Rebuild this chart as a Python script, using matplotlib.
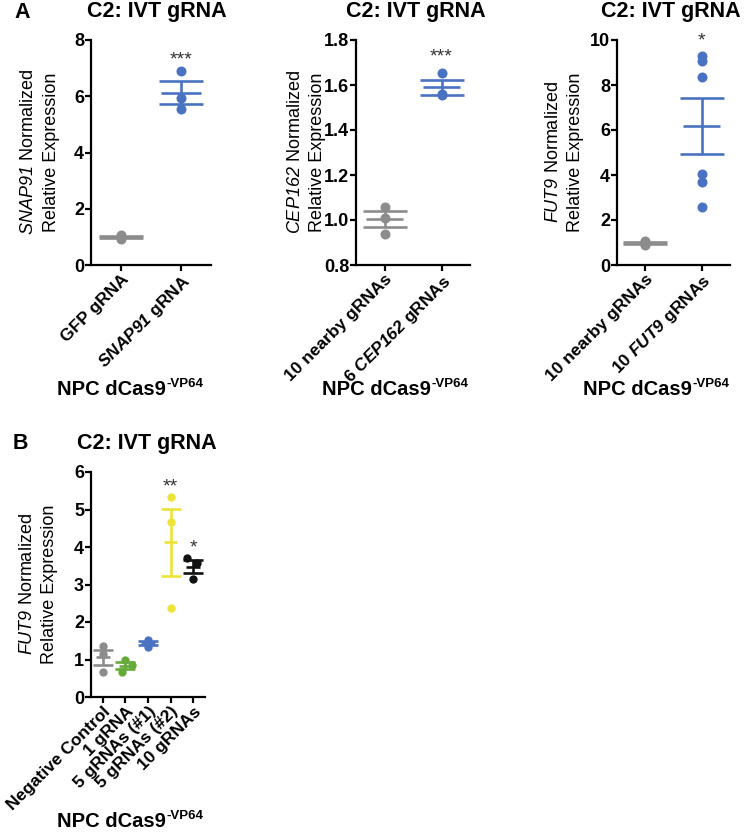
import numpy as np
import matplotlib
matplotlib.use("Agg")
import matplotlib.pyplot as plt

plt.rcParams['font.family'] = ['Liberation Sans', 'DejaVu Sans']
plt.rcParams['mathtext.fontset'] = 'custom'
plt.rcParams['mathtext.rm'] = 'Liberation Sans:italic'
plt.rcParams['mathtext.it'] = 'Liberation Sans:italic'
plt.rcParams['mathtext.bf'] = 'Liberation Sans:bold:italic'
plt.rcParams['mathtext.sf'] = 'Liberation Sans:bold'

# ---------------- data ----------------
title = "C2: IVT gRNA"
xlabel_main = "NPC dCas9"
xlabel_sup = "-VP64"

# Panel A1
a1_labels = ["GFP gRNA", r"$\mathbf{SNAP91}$ gRNA"]
a1_gfp = [1.08, 1.00, 0.93]
a1_snap91 = [6.90, 5.93, 5.54]
a1_sig = ["", "***"]
a1_gene = "SNAP91"
a1_yticks = [0, 2, 4, 6, 8]

# Panel A2
a2_labels = ["10 nearby gRNAs", r"6 $\mathbf{CEP162}$ gRNAs"]
a2_nearby = [1.06, 1.01, 0.94]
a2_cep162 = [1.655, 1.560, 1.555]
a2_sig = ["", "***"]
a2_gene = "CEP162"
a2_yticks = [0.8, 1.0, 1.2, 1.4, 1.6, 1.8]

# Panel A3
a3_labels = ["10 nearby gRNAs", r"10 $\mathbf{FUT9}$ gRNAs"]
a3_nearby = [1.06, 1.02, 1.00, 0.97, 0.93, 0.88]
a3_fut9 = [9.29, 9.07, 8.34, 4.04, 3.71, 2.56]
a3_sig = ["", "*"]
a3_gene = "FUT9"
a3_yticks = [0, 2, 4, 6, 8, 10]

# Panel B
b_labels = ["Negative Control", "1 gRNA", "5 gRNAs (#1)", "5 gRNAs (#2)", "10 gRNAs"]
b_neg = [1.35, 1.15, 0.67]
b_one = [1.00, 0.85, 0.66]
b_five1 = [1.52, 1.44, 1.33]
b_five2 = [5.33, 4.67, 2.38]
b_ten = [3.72, 3.58, 3.14]
b_sig = ["", "", "", "**", "*"]
b_gene = "FUT9"
b_yticks = [0, 1, 2, 3, 4, 5, 6]

# ---------------- style ----------------
GRAY = "#8c8c8c"
BLUE = "#4a72c2"
GREEN = "#66ab3a"
YELLOW = "#ece43a"
BLACK = "#111111"
STAR = "#333333"

W, H = 744, 832
fig = plt.figure(figsize=(W / 100, H / 100), dpi=100)
renderer = fig.canvas.get_renderer()


def fx(px):
    return px / W


def fy(py):
    return 1 - py / H


def make_axes(left, right, top, bottom):
    return fig.add_axes([fx(left), fy(bottom), fx(right - left), (bottom - top) / H])


def style(ax, yticks, fmt, xlim):
    for s in ["top", "right"]:
        ax.spines[s].set_visible(False)
    for s in ["left", "bottom"]:
        ax.spines[s].set_linewidth(1.6)
        ax.spines[s].set_color("black")
    ax.set_ylim(yticks[0], yticks[-1])
    ax.set_yticks(yticks)
    ax.set_yticklabels([fmt.format(v) for v in yticks], fontsize=13, fontweight="bold")
    ax.tick_params(axis="both", width=1.6, length=4, direction="out", pad=1)
    ax.set_xlim(*xlim)


def draw_groups(ax, groups, colors, offsets, msize, mean_hw, capsize, sigs, star_off):
    for i, (vals, c, offs, sig) in enumerate(zip(groups, colors, offsets, sigs)):
        vals = np.asarray(vals, dtype=float)
        xs = i + np.asarray(offs)
        ax.scatter(xs, vals, s=msize, color=c, zorder=3, linewidths=0)
        m = vals.mean()
        sem = vals.std(ddof=1) / np.sqrt(len(vals))
        ax.hlines(m, i - mean_hw, i + mean_hw, color=c, lw=1.9, zorder=4)
        ax.errorbar(i, m, yerr=sem, color=c, lw=1.9, capsize=capsize, capthick=1.9,
                    zorder=4, fmt="none")
        if sig:
            ax.annotate(sig, (i, vals.max()), xytext=(0, star_off), textcoords="offset points",
                        ha="center", va="center", fontsize=14, color=STAR,
                        annotation_clip=False)


def xlabels(ax, labels, fs=12.5):
    ax.set_xticks(range(len(labels)))
    ax.set_xticklabels(labels, rotation=45, ha="right", va="top", rotation_mode="anchor",
                       fontsize=fs, fontweight="bold")


def ylab(gene, x1, x2, ycen):
    fig.text(fx(x1), fy(ycen), r"$\mathit{" + gene + "}$ Normalized", rotation=90,
             ha="center", va="center", fontsize=13)
    fig.text(fx(x2), fy(ycen), "Relative Expression", rotation=90,
             ha="center", va="center", fontsize=13)


def panel_xlabel(xc, yc):
    # main text + superscript, centred as a block at (xc, yc)
    t = fig.text(0, 0, xlabel_main, ha="left", va="baseline", fontsize=14.5, fontweight="bold")
    s = fig.text(0, 0, xlabel_sup, ha="left", va="baseline", fontsize=9.5, fontweight="bold")
    wt = t.get_window_extent(renderer).width
    ws = s.get_window_extent(renderer).width
    total = wt + ws + 1
    x0 = xc - total / 2
    base = yc + 5
    t.set_position((fx(x0), fy(base)))
    s.set_position((fx(x0 + wt + 1), fy(base - 8)))


def ptitle(xc, yc):
    fig.text(fx(xc), fy(yc), title, ha="center", va="center", fontsize=15.5, fontweight="bold")


# ---- A1 ----
ax1 = make_axes(91, 211, 40, 265)
style(ax1, a1_yticks, "{:g}", (-0.5, 1.5))
draw_groups(ax1, [a1_gfp, a1_snap91], [GRAY, BLUE], [[0, 0, 0], [0, 0, 0]],
            52, 0.33, 16, a1_sig, 8)
xlabels(ax1, a1_labels)
ylab(a1_gene, 29, 52, 152)
ptitle(157, 12)
fig.text(fx(22), fy(12), "A", ha="center", va="center", fontsize=15.5, fontweight="bold")
panel_xlabel(130, 390)

# ---- A2 ----
ax2 = make_axes(356, 470, 40, 265)
style(ax2, a2_yticks, "{:.1f}", (-0.5, 1.5))
draw_groups(ax2, [a2_nearby, a2_cep162], [GRAY, BLUE], [[0, 0, 0], [0, 0, 0]],
            52, 0.33, 16, a2_sig, 11)
xlabels(ax2, a2_labels)
ylab(a2_gene, 295, 317, 152)
ptitle(416, 12)
panel_xlabel(395, 390)

# ---- A3 ----
ax3 = make_axes(617, 730, 40, 265)
style(ax3, a3_yticks, "{:g}", (-0.5, 1.5))
draw_groups(ax3, [a3_nearby, a3_fut9], [GRAY, BLUE], [[0] * 6, [0] * 6],
            52, 0.33, 16, a3_sig, 11)
xlabels(ax3, a3_labels)
ylab(a3_gene, 553, 575, 152)
ptitle(671, 12)
panel_xlabel(656, 390)

# ---- B ----
axb = make_axes(91, 205, 472, 697)
style(axb, b_yticks, "{:g}", (-0.53, 4.53))
draw_groups(axb, [b_neg, b_one, b_five1, b_five2, b_ten],
            [GRAY, GREEN, BLUE, YELLOW, BLACK],
            [[0, 0, 0], [0, 0.3, -0.15], [0, 0, 0], [0, 0, 0], [-0.28, 0.16, 0]],
            36, 0.3, 7, b_sig, 7)
xlabels(axb, b_labels)
ylab(b_gene, 28, 50, 584)
ptitle(147, 443)
fig.text(fx(20), fy(443), "B", ha="center", va="center", fontsize=15.5, fontweight="bold")
panel_xlabel(130, 822)

fig.savefig("out.png", dpi=100)
